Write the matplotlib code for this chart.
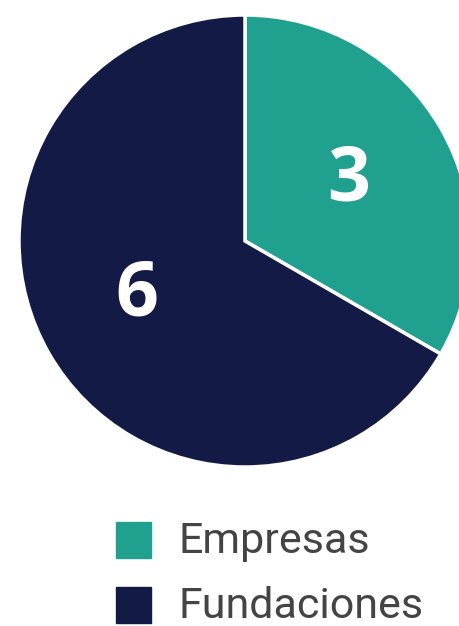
import matplotlib.pyplot as plt
from matplotlib.patches import Rectangle

# data
categorias = ['Empresas', 'Fundaciones']
valores = [3, 6]
colores = ['#20A08F', '#131A45']

fig = plt.figure(figsize=(4.59, 6.26), dpi=100)
ax = fig.add_axes([0, 0, 1, 1])

# pie, centre and radius in pixel units
cx, cy, r = 245, 626 - 241, 226
wedges, _ = ax.pie(valores, colors=colores, startangle=90, counterclock=False,
                   center=(cx, cy), radius=r, frame=True,
                   wedgeprops=dict(edgecolor='white', linewidth=2.5))
ax.set_xlim(0, 459)
ax.set_ylim(0, 626)
ax.set_aspect('equal')
ax.axis('off')

# value labels
pos_labels = [(349, 626 - 181), (137, 626 - 296)]
for v, (x, y) in zip(valores, pos_labels):
    ax.text(x, y, str(v), color='white', fontsize=54, fontweight='bold',
            ha='center', va='center', family=['Open Sans', 'DejaVu Sans'])

# legend drawn by hand
for i, (cat, col) in enumerate(zip(categorias, colores)):
    ytop = 522 + i * 65
    ax.add_patch(Rectangle((116, 626 - ytop - 36), 35, 36, color=col))
    ax.text(178, 626 - ytop - 19, cat, color='#444444', fontsize=31,
            ha='left', va='center', family=['Roboto', 'DejaVu Sans'])

fig.savefig('out.png', dpi=100)
